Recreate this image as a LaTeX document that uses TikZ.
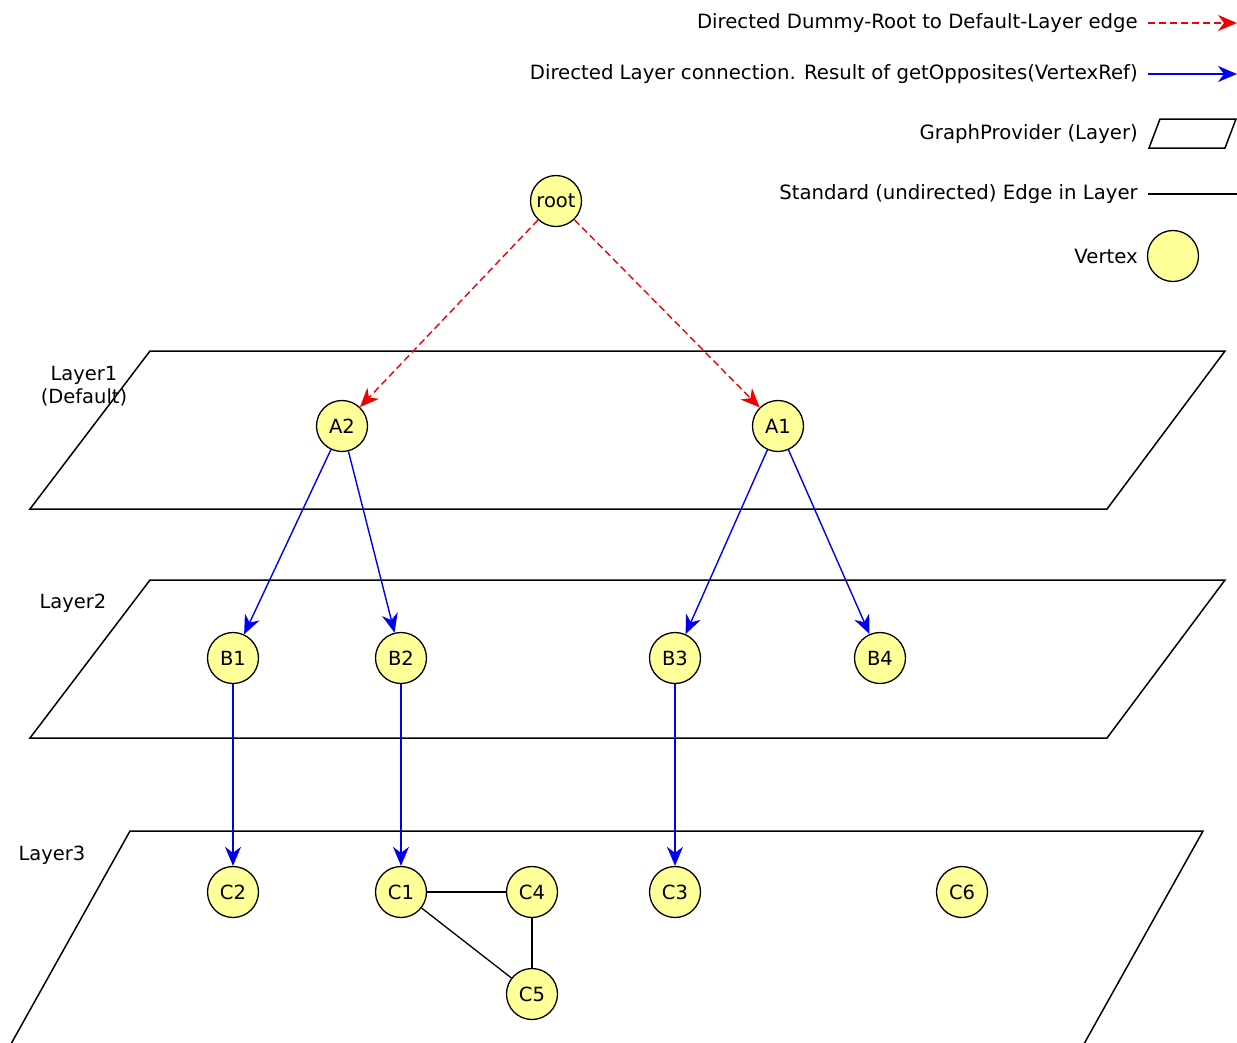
\documentclass[tikz,border=0pt]{standalone}
\usepackage{fontspec}
\setmainfont{DejaVu Sans}
\usetikzlibrary{arrows.meta}
\definecolor{vfill}{HTML}{FFFF99}
\definecolor{eblue}{HTML}{0000F0}
\definecolor{ered}{HTML}{F00000}
\begin{document}
\begin{tikzpicture}[x=1pt,y=-1pt,
  vtx/.style={circle,draw=black,line width=1.3pt,fill=vfill,minimum size=51pt,inner sep=0pt,font=\fontsize{19.5}{21}\selectfont},
  layerbox/.style={draw=black,line width=1.5pt},
  lbl/.style={font=\fontsize{19.5}{23}\selectfont,align=center},
  legtxt/.style={font=\fontsize{19.7}{21}\selectfont,anchor=east,inner sep=0pt},
  tip/.style={-{Stealth[length=19pt,width=16pt,inset=6pt]}},
  dir/.style={draw=eblue,line width=1.4pt,tip},
  dummy/.style={draw=ered,line width=1.4pt,dash pattern=on 7pt off 4pt,tip},
  std/.style={draw=black,line width=1.3pt}]
\useasboundingbox (0,0) rectangle (1237,1042);
\begin{scope}
\clip (0,0) rectangle (1237,1042);
% layers
\draw[layerbox] (150,351) -- (1225,351) -- (1107,509) -- (30,509) -- cycle;
\draw[layerbox] (150,580) -- (1225,580) -- (1107,738) -- (30,738) -- cycle;
\draw[layerbox] (130,831) -- (1203,831) -- (1075,1060) -- (2,1060) -- cycle;
\end{scope}
\node[lbl] (l1) at (84,386) {Layer1\\(Default)};
\node[lbl] (l2) at (73,603) {Layer2};
\node[lbl] (l3) at (52,855) {Layer3};
% vertices
\node[vtx] (root) at (556,201) {root};
\node[vtx] (A2) at (342,426) {A2};
\node[vtx] (A1) at (778,426) {A1};
\node[vtx] (B1) at (233,658) {B1};
\node[vtx] (B2) at (401,658) {B2};
\node[vtx] (B3) at (675,658) {B3};
\node[vtx] (B4) at (880,658) {B4};
\node[vtx] (C2) at (233,892) {C2};
\node[vtx] (C1) at (401,892) {C1};
\node[vtx] (C4) at (532,892) {C4};
\node[vtx] (C3) at (675,892) {C3};
\node[vtx] (C6) at (962,892) {C6};
\node[vtx] (C5) at (532,994) {C5};
% edges
\draw[dummy] (root) -- (A2);
\draw[dummy] (root) -- (A1);
\draw[dir] (A2) -- (B1);
\draw[dir] (A2) -- (B2);
\draw[dir] (A1) -- (B3);
\draw[dir] (A1) -- (B4);
\draw[dir] (B1) -- (C2);
\draw[dir] (B2) -- (C1);
\draw[dir] (B3) -- (C3);
\draw[std] (C1) -- (C4);
\draw[std] (C4) -- (C5);
\draw[std] (C1) -- (C5);
% legend
\node[legtxt] (t1) at (1138,23) {Directed Dummy-Root to Default-Layer edge};
\coordinate (t1e) at (1237,23);
\draw[dummy] ([xshift=10pt]t1.east) -- (t1e);
\node[legtxt] (t2) at (1138,74) {Directed Layer connection. Result of getOpposites(VertexRef)};
\coordinate (t2e) at (1237,74);
\draw[dir] ([xshift=10pt]t2.east) -- (t2e);
\node[legtxt] (t3) at (1138,134) {GraphProvider (Layer)};
\draw[layerbox] (1160,119) -- (1236,119) -- (1225,148) -- (1149,148) -- cycle;
\node[legtxt] (t4) at (1138,194) {Standard (undirected) Edge in Layer};
\coordinate (t4e) at (1237,194);
\draw[std] ([xshift=10pt]t4.east) -- (t4e);
\node[legtxt] (t5) at (1138,256) {Vertex};
\node[vtx] (lv) at (1173,256) {};
\end{tikzpicture}
\end{document}
